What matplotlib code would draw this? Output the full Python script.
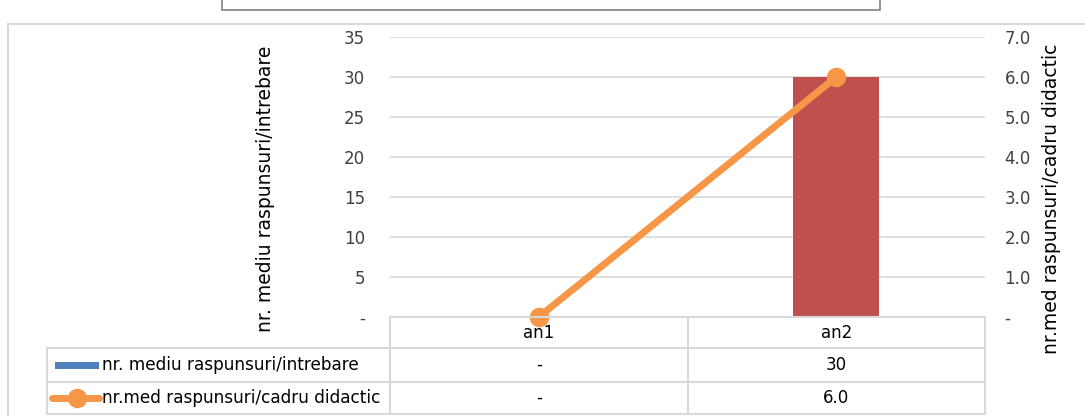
import matplotlib.pyplot as plt
from matplotlib.lines import Line2D
from matplotlib.patches import Rectangle
import matplotlib.transforms as mtransforms

# date
ani = ['an1', 'an2']
raspunsuri_intrebare = [0, 30]
raspunsuri_cadru = [0.0, 6.0]
serie1 = 'nr. mediu raspunsuri/intrebare'
serie2 = 'nr.med raspunsuri/cadru didactic'
ticks_stanga = [0, 5, 10, 15, 20, 25, 30, 35]
ticks_dreapta = [0, 1, 2, 3, 4, 5, 6, 7]

plt.rcParams['font.family'] = ['DejaVu Sans']
W, H = 1085, 416
fig = plt.figure(figsize=(W / 100, H / 100), dpi=100)

# cadru exterior si caseta titlului (taiata)
fig.add_artist(Rectangle((8 / W, -0.1), 1.2, (H - 24) / H + 0.1, transform=fig.transFigure,
                         fill=False, edgecolor='#D9D9D9', linewidth=1.5))
fig.add_artist(Rectangle((222 / W, 1 - 10 / H), (880 - 222) / W, 0.2, transform=fig.transFigure,
                         facecolor='white', edgecolor='#7F7F7F', linewidth=1.2))

ax = fig.add_axes([390 / W, (H - 317) / H, 595 / W, 280 / H])
x = list(range(len(ani)))

culori = ['#C0504D' if v > 0 else '#4F81BD' for v in raspunsuri_intrebare]
ax.bar(x, raspunsuri_intrebare, width=0.29, color=culori, zorder=2)
ax.set_xlim(-0.5, len(ani) - 0.5)
ax.set_ylim(0, 35)
ax.set_yticks(ticks_stanga)
ax.set_yticklabels(['-' if t == 0 else str(t) for t in ticks_stanga])
ax.grid(axis='y', color='#D9D9D9', linewidth=1.2, zorder=0)
ax.set_xticks([])
for s in ax.spines.values():
    s.set_visible(False)
ax.tick_params(axis='y', length=0, pad=18, labelsize=12, colors='#404040')
ax.set_ylabel(serie1, fontsize=13.5)
ax.yaxis.label.set_verticalalignment('center')
ax.yaxis.set_label_coords(-0.21, 0.457)

ax2 = ax.twinx()
ax2.plot(x, raspunsuri_cadru, color='#F79646', linewidth=5, marker='o', markersize=13,
         solid_capstyle='round', clip_on=False, zorder=3)
ax2.set_ylim(0, 7)
ax2.set_yticks(ticks_dreapta)
ax2.set_yticklabels(['-' if t == 0 else f'{t:.1f}' for t in ticks_dreapta])
for s in ax2.spines.values():
    s.set_visible(False)
ax2.tick_params(axis='y', length=0, pad=14, labelsize=12, colors='#404040')
ax2.set_ylabel(serie2, fontsize=13.5)
ax2.yaxis.label.set_verticalalignment('center')
ax2.yaxis.set_label_coords(1.1126, 0.421)

# tabel de date
tr = mtransforms.blended_transform_factory(ax.transData, fig.transFigure)
def fy(p):
    return (H - p) / H
linie = dict(color='#D9D9D9', linewidth=1.5)
x0 = -0.5 - 343 / 595 * len(ani)
for yy in [348, 382, 414]:
    fig.add_artist(Line2D([x0, len(ani) - 0.5], [fy(yy), fy(yy)], transform=tr, **linie))
fig.add_artist(Line2D([-0.5, len(ani) - 0.5], [fy(317), fy(317)], transform=tr, **linie))
fig.add_artist(Line2D([x0, x0], [fy(348), fy(414)], transform=tr, **linie))
for b in range(len(ani) + 1):
    fig.add_artist(Line2D([b - 0.5, b - 0.5], [fy(317), fy(414)], transform=tr, **linie))

def fmt(v, d):
    return '-' if v == 0 else f'{v:.{d}f}'

for i, a in enumerate(ani):
    fig.text(i, fy(333), a, transform=tr, ha='center', va='center', fontsize=12)
    fig.text(i, fy(365), fmt(raspunsuri_intrebare[i], 0), transform=tr, ha='center', va='center', fontsize=12)
    fig.text(i, fy(398), fmt(raspunsuri_cadru[i], 1), transform=tr, ha='center', va='center', fontsize=12)

# chei legenda
fig.add_artist(Rectangle((55 / W, fy(369)), 44 / W, 7 / H, transform=fig.transFigure,
                         facecolor='#4F81BD', edgecolor='none'))
fig.add_artist(Line2D([52 / W, 99 / W], [fy(398), fy(398)], transform=fig.transFigure,
                      color='#F79646', linewidth=5, solid_capstyle='round'))
fig.add_artist(Line2D([77 / W], [fy(398)], transform=fig.transFigure,
                      color='#F79646', marker='o', markersize=13, linestyle='none'))
fig.text(102 / W, fy(365), serie1, ha='left', va='center', fontsize=12.2)
fig.text(102 / W, fy(398), serie2, ha='left', va='center', fontsize=12.2)

fig.savefig('out.png', dpi=100)
